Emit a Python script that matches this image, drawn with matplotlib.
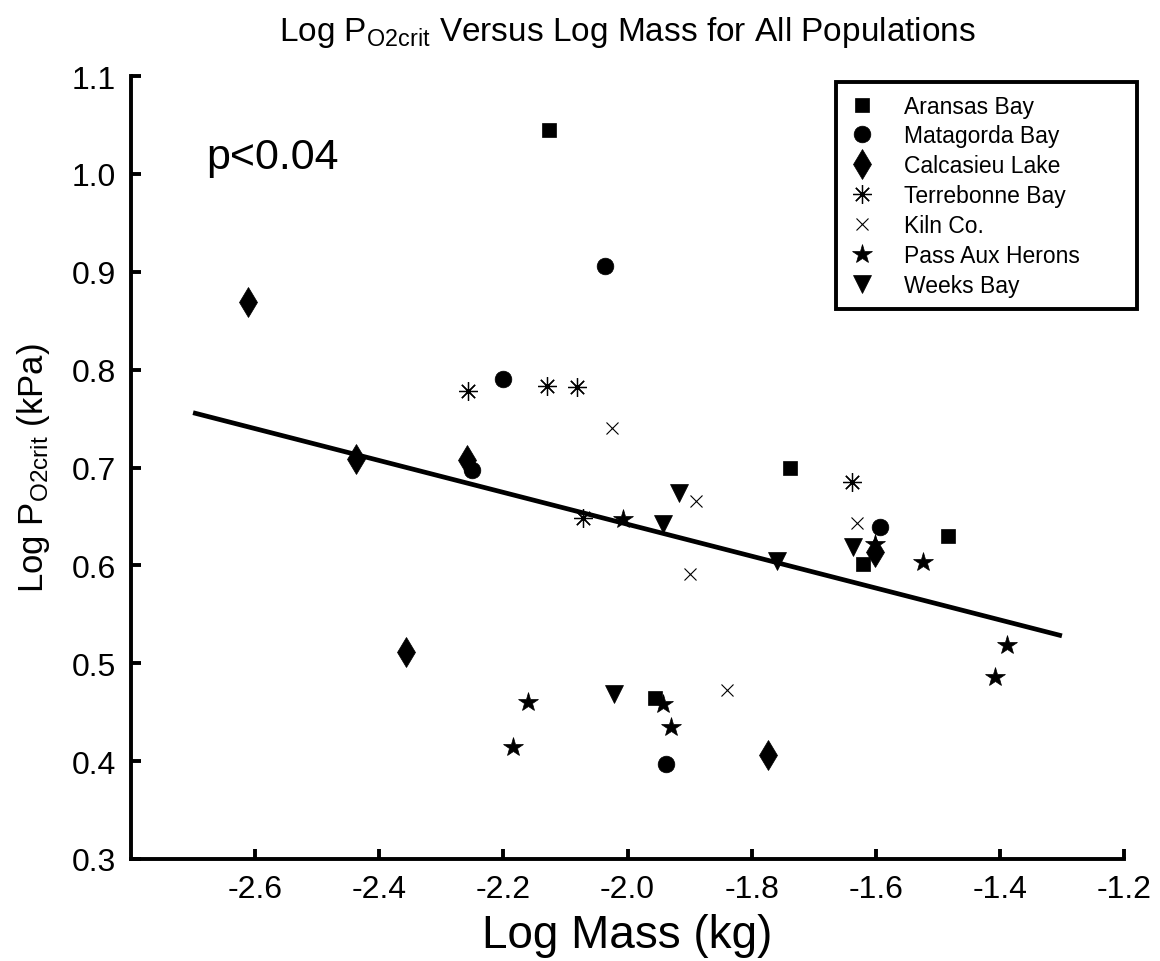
import matplotlib
matplotlib.use("Agg")
import matplotlib.pyplot as plt
from matplotlib.lines import Line2D

plt.rcParams['font.family'] = ['Liberation Sans', 'DejaVu Sans']
plt.rcParams['mathtext.fontset'] = 'custom'
plt.rcParams['mathtext.rm'] = 'Liberation Sans'
plt.rcParams['mathtext.it'] = 'Liberation Sans'
plt.rcParams['axes.unicode_minus'] = False

# ---- data ----
aransas_x = [-2.126, -1.738, -1.620, -1.483, -1.956]
aransas_y = [1.045, 0.699, 0.601, 0.630, 0.464]

matagorda_x = [-2.036, -2.200, -2.251, -1.938, -1.593]
matagorda_y = [0.906, 0.790, 0.697, 0.397, 0.639]

calcasieu_x = [-2.611, -2.437, -2.357, -2.259, -1.774, -1.601]
calcasieu_y = [0.869, 0.709, 0.511, 0.708, 0.406, 0.614]

terrebonne_x = [-2.257, -2.130, -2.081, -2.072, -1.638]
terrebonne_y = [0.778, 0.783, 0.782, 0.648, 0.685]

kiln_x = [-2.025, -1.890, -1.899, -1.840, -1.630]
kiln_y = [0.740, 0.666, 0.591, 0.473, 0.643]

herons_x = [-2.007, -2.160, -2.184, -1.943, -1.930, -1.601, -1.524, -1.388, -1.408]
herons_y = [0.647, 0.460, 0.414, 0.458, 0.435, 0.622, 0.603, 0.519, 0.486]

weeks_x = [-1.917, -1.943, -2.022, -1.759, -1.637]
weeks_y = [0.674, 0.642, 0.469, 0.604, 0.619]

fit_x = [-2.70, -1.30]
fit_y = [0.756, 0.528]

labels = ["Aransas Bay", "Matagorda Bay", "Calcasieu Lake", "Terrebonne Bay",
          "Kiln Co.", "Pass Aux Herons", "Weeks Bay"]
xticks = [-2.6, -2.4, -2.2, -2.0, -1.8, -1.6, -1.4, -1.2]
yticks = [0.3, 0.4, 0.5, 0.6, 0.7, 0.8, 0.9, 1.0, 1.1]

# ---- figure ----
fig = plt.figure(figsize=(11.6, 9.62), dpi=100)
ax = fig.add_axes([131/1160, 1-860/962, (1124-131)/1160, (860-77)/962])

ax.plot(fit_x, fit_y, color='black', lw=3.4, zorder=1, solid_capstyle='butt')

styles = [
    dict(marker='s', ms=9.5, mfc='black', mec='black', mew=0.5),
    dict(marker='o', ms=12, mfc='black', mec='black', mew=0.5),
    dict(marker='d', ms=15, mfc='black', mec='black', mew=0.5),
    dict(marker=(8, 2, 0), ms=13.5, mfc='none', mec='black', mew=0.9),
    dict(marker='x', ms=8.5, mfc='none', mec='black', mew=0.8),
    dict(marker='*', ms=15, mfc='black', mec='black', mew=0.5),
    dict(marker='v', ms=13, mfc='black', mec='black', mew=0.5),
]
series = [(aransas_x, aransas_y), (matagorda_x, matagorda_y),
          (calcasieu_x, calcasieu_y), (terrebonne_x, terrebonne_y),
          (kiln_x, kiln_y), (herons_x, herons_y), (weeks_x, weeks_y)]

handles = []
for (xs, ys), st, lab in zip(series, styles, labels):
    ax.plot(xs, ys, ls='none', zorder=3, **st)
    handles.append(Line2D([], [], ls='none', **st, label=lab))

ax.set_xlim(-2.8, -1.2)
ax.set_ylim(0.3, 1.1)
ax.set_xticks(xticks)
ax.set_xticklabels([f"{v:.1f}" for v in xticks])
ax.set_yticks(yticks)
ax.set_yticklabels([f"{v:.1f}" for v in yticks])

for s in ['top', 'right']:
    ax.spines[s].set_visible(False)
for s in ['left', 'bottom']:
    ax.spines[s].set_linewidth(2.8)
ax.tick_params(direction='in', length=7, width=2.8, labelsize=23, pad=11)

ax.set_xlabel("Log Mass (kg)", fontsize=33, labelpad=6)
ax.set_ylabel(r"Log P$_{\mathrm{O2crit}}$ (kPa)", fontsize=25, labelpad=14)
ax.set_title(r"Log P$_{\mathrm{O2crit}}$ Versus Log Mass for All Populations",
             fontsize=24, pad=26)

ax.text(-2.678, 1.017, "p<0.04", fontsize=31, va='center', ha='left')

x0, x1 = 836 / 1160, 1137 / 1160
y_top, y_bot = 1 - 83 / 962, 1 - 303 / 962
leg = fig.legend(handles=handles, loc='upper left',
                 bbox_to_anchor=(x0, y_bot, x1 - x0, y_top - y_bot),
                 bbox_transform=fig.transFigure, mode='expand',
                 fontsize=16.5, frameon=True, fancybox=False, edgecolor='black',
                 framealpha=1.0,
                 handlelength=1.2, handletextpad=1.2, labelspacing=0.3,
                 borderpad=0.55, borderaxespad=0.0, numpoints=1)
leg.get_frame().set_linewidth(2.8)

fig.savefig("out.png", dpi=100)
